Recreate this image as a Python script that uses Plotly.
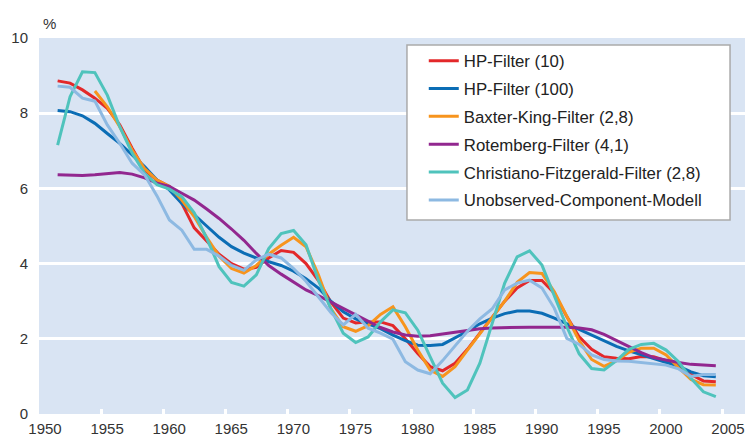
import plotly.graph_objects as go

years = list(range(1951, 2005))

hp10 = [8.86, 8.8, 8.62, 8.4, 8.13, 7.69, 7.07, 6.49, 6.22, 6.05,
        5.6, 4.95, 4.6, 4.25, 4.0, 3.85, 3.9, 4.15, 4.35, 4.3,
        4.0, 3.55, 2.98, 2.55, 2.42, 2.45, 2.45, 2.35, 2.0, 1.61,
        1.26, 1.15, 1.35, 1.72, 2.15, 2.58, 3.0, 3.35, 3.55, 3.55,
        3.21, 2.59, 2.05, 1.72, 1.52, 1.48, 1.47, 1.53, 1.52, 1.42,
        1.28, 1.05, 0.88, 0.86]

hp100 = [8.07, 8.04, 7.93, 7.73, 7.46, 7.2, 6.89, 6.58, 6.22, 5.96,
         5.6, 5.29, 5.0, 4.7, 4.45, 4.28, 4.15, 4.05, 3.95, 3.8,
         3.6, 3.35, 3.0, 2.72, 2.53, 2.4, 2.27, 2.1, 1.95, 1.83,
         1.82, 1.85, 2.02, 2.2, 2.4, 2.55, 2.67, 2.74, 2.74, 2.68,
         2.55, 2.4, 2.25, 2.1, 1.93, 1.8, 1.68, 1.58, 1.48, 1.38,
         1.27, 1.12, 1.02, 0.99]

# Baxter-King beginnt erst 1954
bk = [None, None, None, 8.59, 8.17, 7.64, 7.02, 6.53, 6.22, 6.05,
      5.69, 5.25, 4.7, 4.2, 3.87, 3.75, 3.95, 4.25, 4.49, 4.7,
      4.45, 3.7, 2.8, 2.32, 2.2, 2.35, 2.65, 2.85, 2.32, 1.7,
      1.17, 1.0, 1.26, 1.7, 2.15, 2.57, 3.0, 3.5, 3.76, 3.74,
      3.25, 2.59, 1.95, 1.45, 1.27, 1.42, 1.64, 1.75, 1.75, 1.57,
      1.23, 0.92, 0.78, 0.77]

rotemberg = [6.36, 6.35, 6.34, 6.36, 6.4, 6.42, 6.38, 6.28, 6.14, 6.05,
             5.87, 5.69, 5.45, 5.2, 4.92, 4.62, 4.27, 3.95, 3.72, 3.5,
             3.3, 3.15, 2.98, 2.8, 2.62, 2.47, 2.3, 2.18, 2.1, 2.07,
             2.08, 2.13, 2.18, 2.23, 2.27, 2.29, 2.3, 2.31, 2.31, 2.31,
             2.31, 2.31, 2.29, 2.24, 2.12, 1.95, 1.8, 1.63, 1.5, 1.43,
             1.37, 1.32, 1.3, 1.28]

cf = [7.15, 8.44, 9.1, 9.08, 8.48, 7.64, 6.94, 6.4, 6.1, 5.98,
      5.78, 5.35, 4.68, 3.92, 3.5, 3.4, 3.7, 4.4, 4.8, 4.88,
      4.5, 3.55, 2.8, 2.15, 1.9, 2.05, 2.45, 2.77, 2.69, 2.23,
      1.52, 0.82, 0.44, 0.64, 1.35, 2.4, 3.48, 4.18, 4.34, 3.96,
      3.12, 2.32, 1.6, 1.21, 1.17, 1.42, 1.72, 1.85, 1.88, 1.7,
      1.39, 0.95, 0.59, 0.46]

ucm = [8.72, 8.69, 8.4, 8.32, 7.69, 7.2, 6.67, 6.36, 5.8, 5.16,
       4.89, 4.38, 4.38, 4.2, 3.95, 3.82, 4.1, 4.25, 4.15, 3.87,
       3.53, 3.12, 2.7, 2.37, 2.65, 2.28, 2.15, 1.99, 1.39, 1.17,
       1.07, 1.42, 1.8, 2.2, 2.53, 2.8, 3.3, 3.48, 3.56, 3.35,
       2.81, 2.01, 1.85, 1.57, 1.45, 1.41, 1.4, 1.37, 1.35, 1.3,
       1.2, 1.0, 1.05, 1.05]

namen = ["HP-Filter (10)", "HP-Filter (100)", "Baxter-King-Filter (2,8)",
         "Rotemberg-Filter (4,1)", "Christiano-Fitzgerald-Filter (2,8)",
         "Unobserved-Component-Modell"]
farben = ["#e3282a", "#0b6db5", "#f7941d", "#92278f", "#4fc3bc", "#8db9e2"]
reihen = [hp10, hp100, bk, rotemberg, cf, ucm]

x_tick = list(range(1950, 2006, 5))
y_tick = list(range(0, 11, 2))

# Jahreswerte in der Jahresmitte
x = [j + 0.5 for j in years]

fig = go.Figure()
for name, farbe, werte in zip(namen, farben, reihen):
    fig.add_trace(go.Scatter(
        x=x, y=werte, name=name, mode="lines",
        line=dict(color=farbe, width=3), legendgroup=name
    ))

font = "Liberation Sans, Arial, sans-serif"

fig.update_layout(
    width=745, height=441,
    margin=dict(l=39, r=0, t=38, b=27),
    paper_bgcolor="white",
    plot_bgcolor="#d9e4f3",
    font=dict(family=font, size=15, color="#333333"),
    showlegend=True,
    legend=dict(
        x=0.545, y=0.986, xanchor="left", yanchor="top",
        bgcolor="rgba(0,0,0,0)", borderwidth=0,
        font=dict(family=font, size=16.8, color="#222222"),
        tracegroupgap=3
    ),
    shapes=[dict(
        type="rect", xref="paper", yref="paper",
        x0=0.5212, x1=0.9788, y0=0.516, y1=0.9814,
        fillcolor="white", line=dict(color="#aaaaaa", width=1.5),
        layer="above"
    )],
    annotations=[dict(
        text="%", xref="paper", yref="paper", x=0, y=1,
        xanchor="left", yanchor="bottom", xshift=2, yshift=4,
        showarrow=False, font=dict(family=font, size=15, color="#333333")
    )]
)

fig.update_xaxes(
    range=[1950, 2006.85], tickvals=x_tick,
    ticks="inside", ticklen=5, tickwidth=3, tickcolor="white",
    ticklabelshift=6, ticklabelstandoff=4,
    showgrid=False, zeroline=False, showline=False
)
fig.update_yaxes(
    range=[0, 10], tickvals=y_tick,
    showgrid=True, gridcolor="white", gridwidth=2.5,
    ticks="", ticklabelstandoff=10,
    zeroline=False, showline=False
)

# Seitenrand des Browsers entfernen
fig.write_html("out.html", config={"displayModeBar": False},
               post_script="document.body.style.margin='0';")
